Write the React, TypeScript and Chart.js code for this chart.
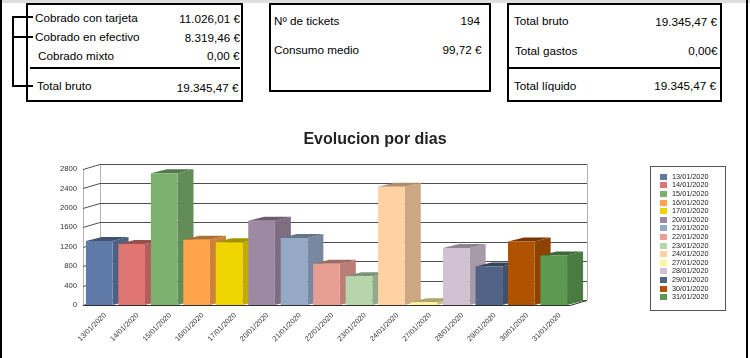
import React, { useEffect, useRef } from "react";
import { Chart, registerables } from "chart.js";

Chart.register(...registerables);

const days = [
  "13/01/2020", "14/01/2020", "15/01/2020", "16/01/2020", "17/01/2020",
  "20/01/2020", "21/01/2020", "22/01/2020", "23/01/2020", "24/01/2020",
  "27/01/2020", "28/01/2020", "29/01/2020", "30/01/2020", "31/01/2020",
];
const dayTotals = [1320, 1257, 2711, 1345, 1290, 1735, 1380, 848, 594, 2437, 55, 1175, 793, 1305, 1018];
const dayColors = [
  "#5f7aa6", "#e07672", "#7bb06f", "#ffa34a", "#f0d600",
  "#9d89a2", "#96aac8", "#e99e94", "#b6d5ad", "#ffd1a3",
  "#fff49a", "#d1c1d3", "#516488", "#b05300", "#5c9a51",
];
const yMax = 2800;
const yStep = 400;
const chartTitle = "Evolucion por dias";

const FONT = "'Liberation Sans', Arial, Helvetica, sans-serif";

const WALL_DX = 17;
const WALL_DY = -5;
const BAR_DX = 16;
const BAR_DY = -4;

function shade(hex: string, f: number) {
  const n = parseInt(hex.slice(1), 16);
  const r = Math.round(((n >> 16) & 255) * f);
  const g = Math.round(((n >> 8) & 255) * f);
  const b = Math.round((n & 255) * f);
  return `rgb(${r},${g},${b})`;
}

const walls3d = {
  id: "walls3d",
  beforeDatasetsDraw(chart: any) {
    const { ctx, chartArea, scales } = chart;
    const { left, right, top, bottom } = chartArea;
    const y = scales.y;
    ctx.save();
    ctx.lineWidth = 1;
    const seg = (pts: number[][], color: string) => {
      ctx.strokeStyle = color;
      ctx.beginPath();
      pts.forEach((p, i) => (i ? ctx.lineTo(p[0], p[1]) : ctx.moveTo(p[0], p[1])));
      ctx.stroke();
    };
    const poly = (pts: number[][]) => {
      ctx.beginPath();
      pts.forEach((p, i) => (i ? ctx.lineTo(p[0], p[1]) : ctx.moveTo(p[0], p[1])));
      ctx.closePath();
      ctx.fill();
    };
    const L = Math.round(left) + 0.5;
    seg([[L, top], [L, bottom]], "#b4b4b4");
    seg([[L + WALL_DX, top + WALL_DY], [L + WALL_DX, bottom + WALL_DY]], "#b4b4b4");
    seg([[Math.round(right) + WALL_DX + 0.5, top + WALL_DY], [Math.round(right) + WALL_DX + 0.5, bottom + WALL_DY]], "#b4b4b4");
    y.ticks.forEach((t: any) => {
      const py = Math.round(y.getPixelForValue(t.value)) + 0.5;
      seg([[left, py], [left + WALL_DX, py + WALL_DY], [right + WALL_DX, py + WALL_DY]], "#505050");
    });
    const fb = Math.round(bottom) + 0.5;
    seg([[left, fb], [right, fb], [right + WALL_DX, fb + WALL_DY]], "#303030");

    const meta = chart.getDatasetMeta(0);
    meta.data.forEach((el: any, i: number) => {
      const { x, y: ty, base, width } = el.getProps(["x", "y", "base", "width"], true);
      const l = x - width / 2;
      const r = x + width / 2;
      const c = dayColors[i];
      ctx.fillStyle = shade(c, 0.8);
      poly([[r, ty], [r + BAR_DX, ty + BAR_DY], [r + BAR_DX, base + BAR_DY], [r, base]]);
      ctx.fillStyle = shade(c, 0.68);
      poly([[l, ty], [l + BAR_DX, ty + BAR_DY], [r + BAR_DX, ty + BAR_DY], [r, ty]]);
    });
    ctx.restore();
  },
};

const boxLegend = {
  id: "boxLegend",
  afterDraw(chart: any) {
    const { ctx } = chart;
    const labels: string[] = chart.data.labels;
    const colors: string[] = chart.data.datasets[0].backgroundColor;
    const x0 = 650;
    const y0 = 56;
    const w = 75;
    const h = 144;
    ctx.save();
    ctx.strokeStyle = "#555";
    ctx.lineWidth = 1;
    ctx.strokeRect(x0 + 0.5, y0 + 0.5, w, h);
    ctx.font = `7.3px ${FONT}`;
    ctx.textBaseline = "middle";
    ctx.textAlign = "left";
    labels.forEach((lab, i) => {
      const cy = y0 + 10.7 + i * 8.6;
      ctx.fillStyle = colors[i];
      ctx.fillRect(660, Math.round(cy - 3), 7, 6);
      ctx.fillStyle = "#222";
      ctx.fillText(lab, 672, cy);
    });
    ctx.restore();
  },
};

function Txt({ x, base, text, right }: { x: number; base: number; text: string; right?: boolean }) {
  const style: React.CSSProperties = {
    position: "absolute",
    top: base - 11,
    height: 14,
    lineHeight: "14px",
    fontSize: 11.7,
    whiteSpace: "nowrap",
  };
  if (right) style.right = 750 - x;
  else style.left = x;
  return <div style={style}>{text}</div>;
}

function Box({ x, y, w, h }: { x: number; y: number; w: number; h: number }) {
  return (
    <div
      style={{
        position: "absolute",
        left: x,
        top: y,
        width: w,
        height: h,
        border: "2px solid #000",
        boxSizing: "border-box",
      }}
    />
  );
}

function Rule({ x, y, w, h }: { x: number; y: number; w: number; h: number }) {
  return <div style={{ position: "absolute", left: x, top: y, width: w, height: h, background: "#000" }} />;
}

export default function App() {
  const ref = useRef<HTMLCanvasElement>(null);

  useEffect(() => {
    const chart = new Chart(ref.current as HTMLCanvasElement, {
      type: "bar",
      data: {
        labels: days,
        datasets: [
          {
            data: dayTotals,
            backgroundColor: dayColors,
            borderWidth: 0,
            barPercentage: 0.82,
            categoryPercentage: 1,
            xAxisID: "x",
            yAxisID: "y",
          },
        ],
      },
      options: {
        responsive: false,
        animation: false,
        events: [],
        layout: { padding: 0 },
        plugins: {
          legend: { display: false },
          tooltip: { enabled: false },
          title: {
            display: true,
            text: chartTitle,
            color: "#222",
            font: { family: FONT, size: 16, weight: "bold" },
            padding: { top: 20.4, bottom: 19.4 },
          },
        },
        scales: {
          x: {
            grid: { display: false, drawTicks: false },
            border: { display: false },
            ticks: {
              autoSkip: false,
              minRotation: 45,
              maxRotation: 45,
              padding: 6,
              labelOffset: 6,
              color: "#333",
              font: { family: FONT, size: 7.4 },
            },
            afterFit: (s: any) => {
              s.height = 53;
            },
          },
          y: {
            min: 0,
            max: yMax,
            ticks: {
              stepSize: yStep,
              padding: 6,
              color: "#333",
              font: { family: FONT, size: 7.7 },
              callback: (v: any) => String(v),
            },
            grid: { display: false, drawTicks: false },
            border: { display: false },
            afterFit: (s: any) => {
              s.width = 83;
            },
          },
          yR: {
            position: "right",
            grid: { display: false, drawTicks: false },
            border: { display: false },
            ticks: { display: false },
            afterFit: (s: any) => {
              s.width = 180;
            },
          },
        },
      } as any,
      plugins: [walls3d, boxLegend],
    });
    return () => chart.destroy();
  }, []);

  return (
    <div
      style={{
        position: "absolute",
        left: 0,
        top: 0,
        width: 750,
        height: 358,
        background: "#fff",
        fontFamily: FONT,
        color: "#000",
        overflow: "hidden",
      }}
    >
      <div style={{ position: "absolute", left: 0, top: 0, width: 750, height: 3, background: "#dedede" }} />
      <Rule x={0} y={0} w={2} h={358} />
      <Rule x={746} y={0} w={2} h={358} />

      <Box x={26} y={3} w={217} h={99} />
      <Rule x={12} y={17} w={2} h={70} />
      <Rule x={12} y={16} w={21} h={2} />
      <Rule x={12} y={36} w={21} h={2} />
      <Rule x={12} y={85} w={21} h={2} />
      <Rule x={30} y={67} w={210} h={2} />
      <Txt x={35} base={22} text="Cobrado con tarjeta" />
      <Txt x={240} base={22.6} text="11.026,01 €" right />
      <Txt x={35} base={41} text="Cobrado en efectivo" />
      <Txt x={240} base={42} text="8.319,46 €" right />
      <Txt x={38} base={59.6} text="Cobrado mixto" />
      <Txt x={239.5} base={60.3} text="0,00 €" right />
      <Txt x={37} base={89.6} text="Total bruto" />
      <Txt x={238.5} base={92} text="19.345,47 €" right />

      <Box x={269} y={3} w={222} h={89} />
      <Txt x={274} base={24.6} text="Nº de tickets" />
      <Txt x={480} base={25.3} text="194" right />
      <Txt x={274} base={53.6} text="Consumo medio" />
      <Txt x={481.5} base={54.3} text="99,72 €" right />

      <Box x={507} y={3} w={215} h={99} />
      <Rule x={507} y={67} w={215} h={2} />
      <Txt x={514} base={24.6} text="Total bruto" />
      <Txt x={717} base={25.5} text="19.345,47 €" right />
      <Txt x={515} base={54.6} text="Total gastos" />
      <Txt x={717.5} base={55.3} text="0,00€" right />
      <Txt x={514} base={90.3} text="Total líquido" />
      <Txt x={716} base={90.3} text="19.345,47 €" right />

      <canvas ref={ref} width={750} height={248} style={{ position: "absolute", left: 0, top: 110 }} />
    </div>
  );
}
